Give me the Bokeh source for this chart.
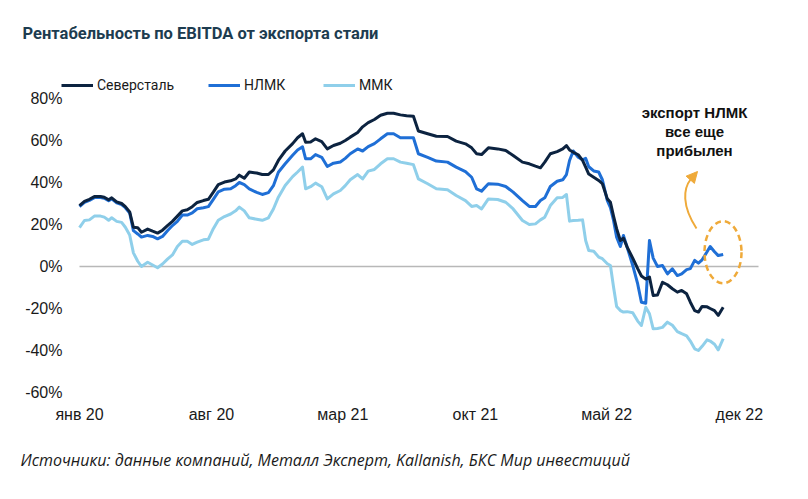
import pandas as pd
from bokeh.plotting import figure
from bokeh.models import (Range1d, FixedTicker, PrintfTickFormatter, Label,
                          Legend, LegendItem, Arrow, NormalHead)
from bokeh.embed import file_html
from bokeh.resources import INLINE

# ---- data ----
dates = [
    "2020-01-01", "2020-01-09", "2020-01-17", "2020-01-25", "2020-02-04", "2020-02-10", "2020-02-17", "2020-02-22",
    "2020-03-01", "2020-03-09", "2020-03-15", "2020-03-22", "2020-03-28", "2020-04-04", "2020-04-10", "2020-04-20",
    "2020-04-28", "2020-05-06", "2020-05-14", "2020-05-22", "2020-05-30", "2020-06-07", "2020-06-15", "2020-06-23",
    "2020-07-01", "2020-07-09", "2020-07-19", "2020-07-27", "2020-08-04", "2020-08-12", "2020-08-22", "2020-09-01",
    "2020-09-09", "2020-09-15", "2020-09-23", "2020-10-01", "2020-10-13", "2020-10-22", "2020-11-01", "2020-11-09",
    "2020-11-17", "2020-11-28", "2020-12-10", "2020-12-18", "2020-12-26", "2020-12-31", "2021-01-08", "2021-01-16",
    "2021-01-26", "2021-02-04", "2021-02-14", "2021-02-25", "2021-03-05", "2021-03-13", "2021-03-25", "2021-04-02",
    "2021-04-11", "2021-04-21", "2021-05-01", "2021-05-12", "2021-05-22", "2021-06-02", "2021-06-12", "2021-06-23",
    "2021-07-01", "2021-07-16", "2021-07-30", "2021-08-17", "2021-08-31", "2021-09-15", "2021-09-25", "2021-10-03",
    "2021-10-11", "2021-10-22", "2021-11-06", "2021-11-19", "2021-12-01", "2021-12-16", "2021-12-27", "2022-01-06",
    "2022-01-14", "2022-01-21", "2022-01-30", "2022-02-10", "2022-02-19", "2022-02-25", "2022-03-02", "2022-03-08",
    "2022-03-16", "2022-03-23", "2022-03-28", "2022-04-02", "2022-04-10", "2022-04-18", "2022-04-24", "2022-05-02",
    "2022-05-07", "2022-05-12", "2022-05-17", "2022-05-23", "2022-05-28", "2022-06-03", "2022-06-12", "2022-06-20",
    "2022-06-26", "2022-07-03", "2022-07-09", "2022-07-15", "2022-07-22", "2022-07-30", "2022-08-07", "2022-08-15",
    "2022-08-23", "2022-08-30", "2022-09-07", "2022-09-13", "2022-09-20", "2022-09-26", "2022-10-02", "2022-10-10",
    "2022-10-15", "2022-10-22", "2022-10-28", "2022-11-05",
]

severstal = [
    29.0, 31.0, 32.0, 33.3, 33.3, 33.0, 31.8, 32.7, 30.8, 30.0, 28.5, 26.0, 18.7, 18.5, 16.3, 17.8,
    16.8, 15.9, 17.3, 19.5, 21.5, 24.0, 26.5, 27.0, 28.5, 30.5, 31.4, 32.0, 35.4, 39.0, 40.2, 40.8,
    41.7, 43.5, 42.0, 45.0, 44.5, 43.8, 43.8, 46.0, 50.5, 55.0, 58.5, 61.3, 63.2, 59.2, 59.3, 60.8,
    59.5, 56.0, 57.6, 58.7, 60.0, 61.6, 63.8, 66.5, 68.5, 70.0, 72.0, 73.0, 73.0, 72.2, 71.8, 71.5,
    64.5, 63.2, 62.0, 61.9, 59.7, 58.4, 56.5, 53.7, 53.3, 56.5, 56.0, 55.2, 52.9, 49.7, 48.9, 47.8,
    47.0, 49.7, 53.7, 54.7, 56.0, 57.6, 55.5, 54.4, 53.2, 50.5, 47.3, 44.0, 42.5, 41.0, 39.4, 32.2,
    30.6, 24.0, 18.0, 12.4, 13.5, 9.2, 4.0, -1.0, -4.5, -6.0, -5.0, -13.8, -13.6, -7.5, -8.7, -10.6,
    -12.2, -11.4, -13.0, -17.0, -21.0, -21.7, -19.0, -19.2, -20.0, -21.0, -23.3, -19.4,
]

nlmk = [
    28.5, 30.5, 31.5, 32.8, 32.8, 32.5, 31.3, 32.2, 30.3, 29.5, 28.0, 25.5, 17.1, 15.5, 14.0, 14.8,
    14.3, 13.2, 14.3, 17.0, 19.5, 21.5, 24.5, 24.5, 25.5, 27.5, 28.0, 28.5, 32.0, 35.5, 36.8, 37.0,
    38.5, 40.0, 39.0, 37.0, 35.3, 34.3, 35.2, 38.5, 44.9, 48.9, 53.0, 55.5, 57.0, 51.3, 51.3, 53.3,
    52.0, 47.6, 49.2, 49.8, 51.5, 53.7, 56.0, 55.0, 57.1, 58.5, 60.8, 63.2, 63.2, 61.3, 61.3, 61.3,
    53.7, 52.0, 50.2, 49.7, 47.3, 45.2, 42.5, 37.0, 35.9, 39.4, 39.2, 38.1, 35.4, 31.4, 28.6, 28.6,
    31.4, 32.7, 38.1, 40.6, 41.3, 43.8, 50.5, 55.0, 52.0, 50.8, 51.5, 47.5, 45.5, 45.0, 41.3, 31.4,
    28.0, 21.9, 14.0, 9.5, 14.8, 9.2, 0.5, -8.3, -17.0, -17.5, 12.4, 4.0, 0.0, 0.5, -3.5, -1.1,
    -4.3, -3.5, -1.5, -1.0, 2.9, 1.6, 3.2, 7.0, 9.5, 7.0, 5.2, 5.7,
]

mmk = [
    18.5, 21.9, 22.2, 24.0, 24.0, 23.5, 22.0, 23.2, 21.5, 21.0, 18.7, 15.0, 6.5, 2.5, 0.0, 2.0,
    0.7, -0.6, 1.2, 3.5, 5.5, 9.5, 12.0, 12.0, 10.5, 11.6, 12.7, 13.0, 18.0, 22.0, 23.8, 25.0,
    26.5, 28.3, 26.5, 23.2, 22.5, 22.0, 23.2, 27.4, 33.0, 38.6, 42.8, 45.0, 47.3, 37.0, 38.0, 39.7,
    38.0, 32.2, 34.6, 36.2, 38.5, 41.3, 43.8, 41.7, 45.4, 46.2, 48.9, 51.3, 51.3, 49.7, 49.2, 48.5,
    41.7, 39.4, 37.0, 36.5, 33.8, 31.4, 28.6, 29.0, 27.4, 32.2, 31.9, 30.6, 27.4, 21.9, 20.0, 20.3,
    22.2, 23.5, 29.0, 32.7, 32.9, 34.3, 21.6, 21.9, 22.0, 22.2, 12.4, 7.6, 7.3, 4.5, 3.7, 1.3,
    0.5, -9.8, -19.0, -21.0, -21.7, -21.5, -22.0, -26.0, -28.1, -19.4, -22.5, -29.7, -29.5, -29.0, -26.5, -28.0,
    -31.0, -32.0, -33.0, -35.5, -39.2, -40.0, -38.0, -34.9, -35.5, -37.0, -39.7, -34.4,
]

series_names = ["Северсталь", "НЛМК", "ММК"]
series_colors = ["#0c2340", "#1f6fd6", "#8fcfea"]

tick_dates = ["2020-01-01", "2020-08-01", "2021-03-01", "2021-10-01", "2022-05-01", "2022-12-01"]
tick_labels = ["янв 20", "авг 20", "мар 21", "окт 21", "май 22", "дек 22"]
y_ticks = [-60, -40, -20, 0, 20, 40, 60, 80]

title_text = "Рентабельность по EBITDA от экспорта стали"
note_lines = ["экспорт НЛМК", "все еще", "прибылен"]
source_text = "Источники: данные компаний, Металл Эксперт, Kallanish, БКС Мир инвестиций"

# ---- x as days since start ----
origin = pd.Timestamp("2020-01-01")
days = list((pd.to_datetime(dates) - origin).days)
tick_days = list((pd.to_datetime(tick_dates) - origin).days)
x_end = (pd.Timestamp("2023-01-01") - origin).days

W, H = 800, 491
# plot area in page pixels: x 79..758 (jan 20 .. jan 23), y 98..392 (80% .. -60%)
X0, X1, Y0, Y1 = 79, 758, 98, 392
dpp = x_end / (X1 - X0)          # days per pixel
vpp = 140 / (Y1 - Y0)            # percent per pixel


def px_x(x):
    return (x - X0) * dpp


def px_y(y):
    return 80 - (y - Y0) * vpp


# the frame covers the whole canvas, so that titles and legend are not clipped
p = figure(width=W, height=H, output_backend="svg", toolbar_location=None,
           x_range=Range1d(px_x(0), px_x(W)), y_range=Range1d(px_y(H), px_y(0)),
           min_border=0, min_border_left=0, min_border_right=0,
           min_border_top=0, min_border_bottom=0)
p.grid.grid_line_color = None
p.outline_line_color = None
p.background_fill_color = "white"
p.border_fill_color = "white"

for ax in (p.xaxis, p.yaxis):
    ax.axis_line_color = None
    ax.major_tick_line_color = None
    ax.minor_tick_line_color = None
    ax.major_label_text_font = "Liberation Sans"
    ax.major_label_text_font_size = "16px"
    ax.major_label_text_color = "#1a1a1a"

p.xaxis.ticker = FixedTicker(ticks=tick_days)
p.xaxis.major_label_overrides = dict(zip(tick_days, tick_labels))
p.xaxis.major_label_standoff = 7
p.xaxis.fixed_location = -60
p.yaxis.ticker = FixedTicker(ticks=y_ticks)
p.yaxis.formatter = PrintfTickFormatter(format="%d%%")
p.yaxis.major_label_standoff = 11
p.yaxis.fixed_location = 0

# zero line across the plot area
p.line([0, x_end], [0, 0], line_color="#b8b8b8", line_width=1.5)

renderers = []
for vals, name, col in zip([severstal, nlmk, mmk], series_names, series_colors):
    r = p.line(days, vals, line_color=col, line_width=3, line_join="round")
    renderers.append(r)
renderers[0].level = "overlay"

# one legend box per entry, laid out in a row above the plot
for n, r, lx in zip(series_names, renderers, [61, 208, 323]):
    p.add_layout(Legend(items=[LegendItem(label=n, renderers=[r])], location=(lx, H - 95),
                        label_standoff=4, glyph_width=32, glyph_height=20, padding=0, margin=0,
                        border_line_color=None, background_fill_alpha=0,
                        label_text_font="Roboto", label_text_font_size="14px",
                        label_text_color="#1a1a1a"))

# title and source
p.add_layout(Label(x=px_x(22), y=px_y(33), text=title_text, text_align="left", text_baseline="middle",
                   text_font="Roboto", text_font_style="bold",
                   text_font_size="16.5px", text_color="#1d3c50"))
p.add_layout(Label(x=px_x(20), y=px_y(459), text=source_text, text_align="left", text_baseline="middle",
                   text_font="Open Sans", text_font_style="italic",
                   text_font_size="16px", text_color="#1a1a1a"))

# annotation
for txt, yy in zip(note_lines, [112, 131, 150]):
    p.add_layout(Label(x=px_x(694), y=px_y(yy), text=txt, text_align="center", text_baseline="middle",
                       text_font="Liberation Sans", text_font_style="bold",
                       text_font_size="15px", text_color="#111111"))

orange = "#efaa3a"
p.ellipse(x=px_x(722.5), y=px_y(251.7), width=37 * dpp, height=62 * vpp, fill_color=None,
          line_color=orange, line_width=2.5, line_dash="6 4")
p.bezier(x0=px_x(696), y0=px_y(228), x1=px_x(690), y1=px_y(179),
         cx0=px_x(681), cy0=px_y(205), cx1=px_x(683), cy1=px_y(188),
         line_color=orange, line_width=2)
p.add_layout(Arrow(end=NormalHead(size=11, fill_color=orange, line_color=orange),
                   x_start=px_x(690), y_start=px_y(179), x_end=px_x(697), y_end=px_y(171),
                   line_color=orange, line_width=2))

open("out.html", "w").write(file_html(p, INLINE, "chart"))
